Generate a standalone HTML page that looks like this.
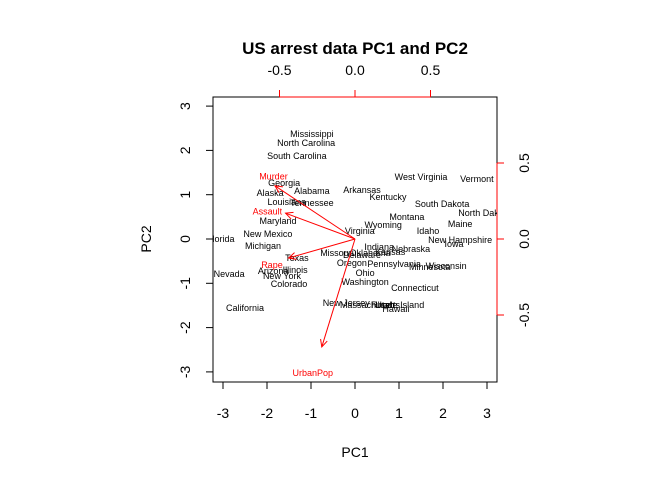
<!DOCTYPE html>
<html><head><meta charset="utf-8"><style>
body{margin:0;background:#fff}
svg{display:block;font-family:"Liberation Sans",Arial,sans-serif}
</style></head><body>
<svg id="c" width="672" height="480" viewBox="0 0 672 480">
<text x="355" y="54" text-anchor="middle" font-size="17" font-weight="bold">US arrest data PC1 and PC2</text>
<rect x="213" y="97" width="284" height="285" fill="none" stroke="#000"/>
<text x="355" y="457" text-anchor="middle" font-size="14">PC1</text>
<text transform="translate(151,239) rotate(-90)" text-anchor="middle" font-size="14">PC2</text>
<g id="g"></g>
</svg>
<script>
const states=["Mississippi","North Carolina","South Carolina","Georgia","Alabama","Alaska","Louisiana","Tennessee","Maryland","New Mexico","Florida","Michigan","Texas","Missouri","Delaware","Oklahoma","Kansas","Indiana","Nebraska","Illinois","Arizona","New York","Nevada","Colorado","Oregon","Pennsylvania","Ohio","Washington","Minnesota","Wisconsin","Connecticut","California","New Jersey","Massachusetts","Utah","Rhode Island","Hawaii","Virginia","Wyoming","Montana","Idaho","Maine","North Dakota","New Hampshire","Iowa","South Dakota","Kentucky","Arkansas","West Virginia","Vermont"];
const pc1=[-0.98,-1.11,-1.32,-1.61,-0.98,-1.93,-1.55,-0.98,-1.75,-1.98,-3.05,-2.09,-1.32,-0.41,0.16,0.34,0.8,0.55,1.27,-1.36,-1.86,-1.66,-2.86,-1.5,-0.07,0.89,0.23,0.23,1.7,2.07,1.36,-2.5,-0.2,0.34,0.68,0.97,0.93,0.11,0.64,1.18,1.66,2.39,2.95,2.39,2.25,1.98,0.75,0.16,1.5,2.77];
const pc2=[2.37,2.17,1.87,1.26,1.08,1.04,0.84,0.81,0.41,0.11,0,-0.16,-0.43,-0.32,-0.36,-0.32,-0.29,-0.18,-0.23,-0.7,-0.72,-0.84,-0.79,-1.02,-0.54,-0.56,-0.77,-0.97,-0.63,-0.61,-1.11,-1.56,-1.44,-1.49,-1.49,-1.49,-1.58,0.18,0.32,0.5,0.18,0.34,0.59,-0.02,-0.11,0.79,0.95,1.11,1.4,1.35];
const vars=["Murder","Assault","Rape","UrbanPop"];
const load1=[-0.53,-0.46,-0.44,-0.22];
const load2=[0.35,0.17,-0.125,-0.71];
const lab1=[-0.54,-0.58,-0.55,-0.28];
const lab2=[0.41,0.18,-0.17,-0.88];
const xTicks=[-3,-2,-1,0,1,2,3];
const yTicks=[-3,-2,-1,0,1,2,3];
const topTicks=[-0.5,0,0.5];
const topLabels=["-0.5","0.0","0.5"];
const rightTicks=[-0.5,0,0.5];
const rightLabels=["-0.5","0.0","0.5"];
const X=v=>355+v*44, Y=v=>239-v*44.3, X2=v=>355+v*151, Y2=v=>239-v*152;
const g=document.getElementById('g'),NS="http://www.w3.org/2000/svg";
function el(t,a,txt){const e=document.createElementNS(NS,t);for(const k in a)e.setAttribute(k,a[k]);if(txt!==undefined)e.textContent=txt;g.appendChild(e);return e;}
let e=el('line',{x1:X(xTicks[0]),x2:X(xTicks[xTicks.length-1]),y1:382,y2:382,stroke:'#000'});


xTicks.forEach(t=>{let l=el('line',{x1:X(t),x2:X(t),y1:382,y2:389,stroke:'#000'});


let s=el('text',{x:X(t),y:418,'text-anchor':'middle','font-size':14},String(t));

});
e=el('line',{x1:213,x2:213,y1:Y(yTicks[0]),y2:Y(yTicks[yTicks.length-1]),stroke:'#000'});


yTicks.forEach(t=>{let l=el('line',{x1:206,x2:213,y1:Y(t),y2:Y(t),stroke:'#000'});


let s=el('text',{transform:`translate(190,${Y(t)}) rotate(-90)`,'text-anchor':'middle','font-size':14},String(t));

});
e=el('line',{x1:X2(topTicks[0]),x2:X2(topTicks[topTicks.length-1]),y1:97,y2:97,stroke:'#f00'});


topTicks.forEach((t,i)=>{let l=el('line',{x1:X2(t),x2:X2(t),y1:90,y2:97,stroke:'#f00'});


let s=el('text',{x:X2(t),y:75,'text-anchor':'middle','font-size':14},topLabels[i]);

});
e=el('line',{x1:497,x2:497,y1:Y2(rightTicks[0]),y2:Y2(rightTicks[rightTicks.length-1]),stroke:'#f00'});


rightTicks.forEach((t,i)=>{let l=el('line',{x1:497,x2:504,y1:Y2(t),y2:Y2(t),stroke:'#f00'});


let s=el('text',{transform:`translate(529,${Y2(t)}) rotate(-90)`,'text-anchor':'middle','font-size':14},rightLabels[i]);

});
const cp=el('clipPath',{id:'cp'});
const cr=document.createElementNS(NS,'rect');
cr.setAttribute('x',213);cr.setAttribute('y',97);cr.setAttribute('width',284);cr.setAttribute('height',285);
cp.appendChild(cr);
states.forEach((s,i)=>{let t=el('text',{x:X(pc1[i]),y:Y(pc2[i])+3,'text-anchor':'middle','font-size':9,'clip-path':'url(#cp)'},s);

});
vars.forEach((v,i)=>{const x=X2(load1[i]),y=Y2(load2[i]);
let l=el('line',{x1:355,y1:239,x2:x,y2:y,stroke:'#f00'});


const a=Math.atan2(y-239,x-355),h=8,w=0.45;
let p=el('path',{d:`M${x-h*Math.cos(a-w)},${y-h*Math.sin(a-w)}L${x},${y}L${x-h*Math.cos(a+w)},${y-h*Math.sin(a+w)}`,stroke:'#f00',fill:'none'});


let t=el('text',{x:X2(lab1[i]),y:Y2(lab2[i])+3,'text-anchor':'middle','font-size':9,fill:'#f00'},v);

});
</script>
</body></html>
